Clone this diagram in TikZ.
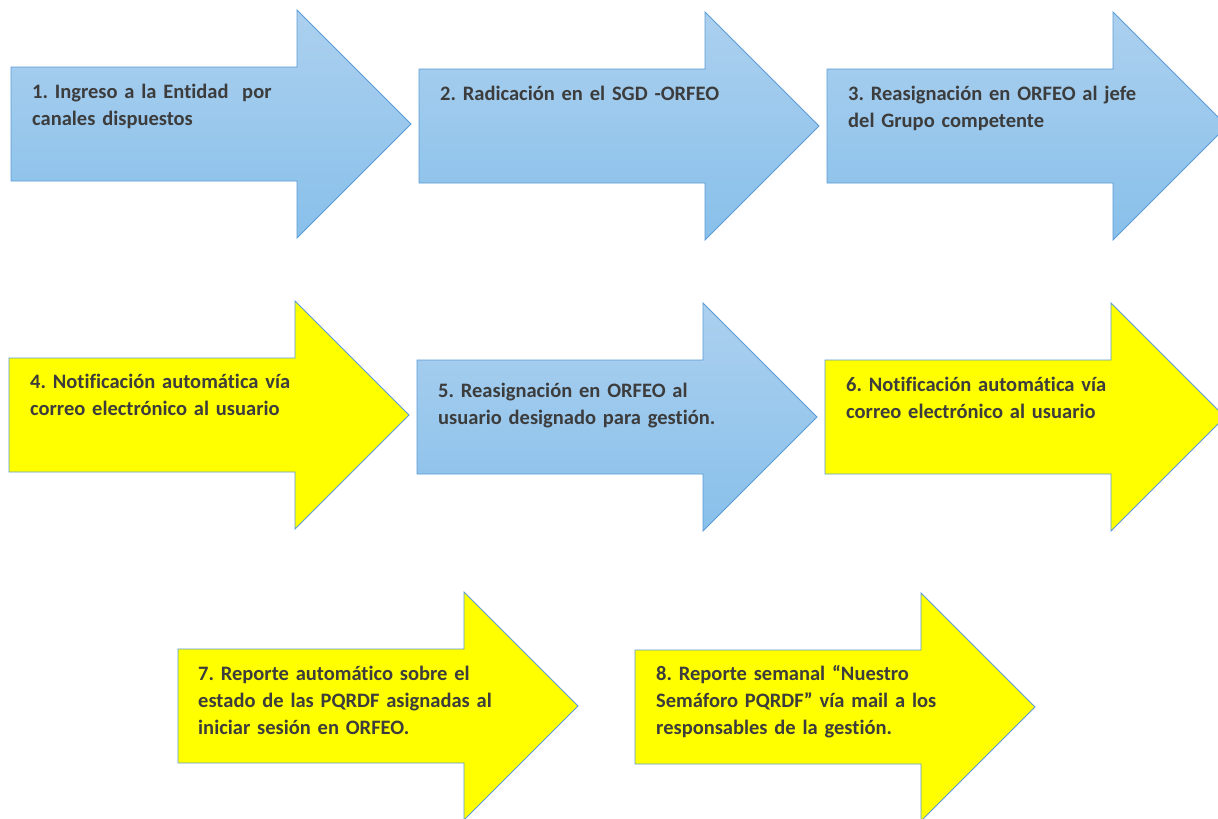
\documentclass[tikz,border=0pt]{standalone}
\usepackage{fontspec}
\setmainfont{Carlito}[Ligatures=NoCommon]
\frenchspacing
\definecolor{bluetop}{RGB}{172,208,239}
\definecolor{bluebot}{RGB}{136,192,234}
\definecolor{edgeblue}{RGB}{91,155,213}
\definecolor{stepyellow}{RGB}{255,255,0}
\definecolor{textgray}{RGB}{60,60,60}
\tikzset{
  bluearrow/.style={top color=bluetop, bottom color=bluebot, draw=edgeblue, line width=0.9pt, line join=miter},
  yellowarrow/.style={fill=stepyellow, draw=edgeblue, line width=0.9pt, line join=miter},
  steptext/.style={anchor=base west, inner sep=0pt, text width=300pt, align=left,
    text=textgray, font=\bfseries\fontsize{20.5}{27.3}\selectfont}
}
% #1 style, #2 left x, #3 body top y
\newcommand\flowarrow[3]{%
  \path[#1] (#2,#3) -- ++(286,0) -- ++(0,-57) -- ++(114,114) -- ++(-114,114)
    -- ++(0,-57) -- ++(-286,0) -- cycle;}
\begin{document}
\begin{tikzpicture}[x=1pt,y=-1pt]
\clip (0,0) rectangle (1218,819);
\fill[white] (0,0) rectangle (1218,819);

\flowarrow{bluearrow}{11}{67}
\flowarrow{bluearrow}{419}{69}
\flowarrow{bluearrow}{827}{69}
\flowarrow{yellowarrow}{9}{358}
\flowarrow{bluearrow}{417}{360}
\flowarrow{yellowarrow}{825}{360}
\flowarrow{yellowarrow}{178}{649}
\flowarrow{yellowarrow}{635}{650}

\node[steptext] (t1) at (32,98) {1. Ingreso a la Entidad~ por\\canales dispuestos};
\node[steptext] (t2) at (440,100) {2. Radicación en el SGD -ORFEO};
\node[steptext] (t3) at (848,100) {3. Reasignación en ORFEO al jefe\\del Grupo competente};
\node[steptext] (t4) at (30,388) {4. Notificación automática vía\\correo electrónico al usuario};
\node[steptext] (t5) at (438,397) {5. Reasignación en ORFEO al\\usuario designado para gestión.};
\node[steptext] (t6) at (846,391) {6. Notificación automática vía\\correo electrónico al usuario};
\node[steptext] (t7) at (198,680) {7. Reporte automático sobre el\\estado de las PQRDF asignadas al\\iniciar sesión en ORFEO.};
\node[steptext] (t8) at (656,680) {8. Reporte semanal “Nuestro\\Semáforo PQRDF” vía mail a los\\responsables de la gestión.};
\end{tikzpicture}
\end{document}
